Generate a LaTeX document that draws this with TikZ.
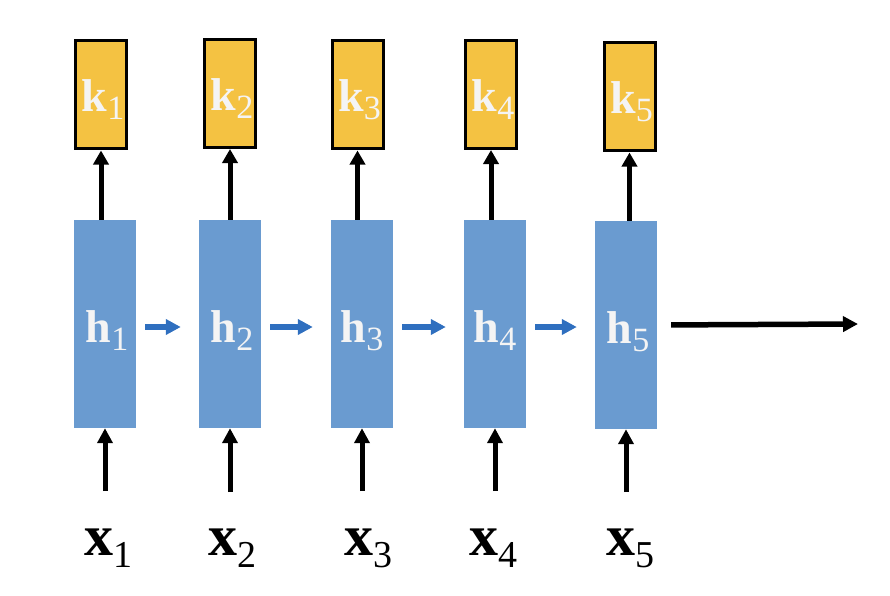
\documentclass[tikz,border=0pt]{standalone}
\usepackage{fontspec}
\usepackage{graphicx}
\setmainfont{Liberation Serif}
\usetikzlibrary{arrows.meta}
\definecolor{kyel}{HTML}{F4C242}
\definecolor{hblue}{HTML}{6A9BD0}
\definecolor{ablue}{HTML}{2F6FBF}
\definecolor{lbltxt}{HTML}{F4F4F4}
\newcommand\lab[2]{{\fontsize{46}{46}\selectfont\bfseries #1}\raisebox{-8pt}{\fontsize{34}{34}\selectfont #2}}
\newcommand\xlab[1]{{\fontsize{58}{58}\selectfont\bfseries x}\raisebox{-12pt}{\fontsize{38}{38}\selectfont #1}}
\tikzset{
  hbox/.style={rectangle, fill=hblue, draw=none, minimum width=62pt, minimum height=208pt, inner sep=0pt},
  kbox/.style={rectangle, fill=kyel, draw=black, line width=3pt, minimum width=51pt, minimum height=108pt, inner sep=0pt},
  lbl/.style={text=lbltxt, inner sep=0pt, anchor=base},
  xl/.style={text=black, inner sep=0pt, anchor=base},
  karrow/.style={draw=black, line width=5pt, -{Triangle[width=15pt,length=14pt]}},
  barrow/.style={draw=black, line width=5pt, -{Triangle[width=15pt,length=15pt]}},
  harrow/.style={draw=ablue, line width=5.5pt, -{Triangle[width=15pt,length=15pt]}},
  oarrow/.style={draw=black, line width=5.5pt, -{Triangle[width=15pt,length=15pt]}},
}
\begin{document}
\begin{tikzpicture}[x=1pt,y=-1pt]
\useasboundingbox (0,0) rectangle (890,596);
% hidden boxes
\node[hbox] (h1) at (105,324) {};
\node[hbox] (h2) at (230,324) {};
\node[hbox] (h3) at (362,324) {};
\node[hbox] (h4) at (495,324) {};
\node[hbox] (h5) at (626,325) {};
% output boxes
\node[kbox] (k1) at (101,95) {};
\node[kbox] (k2) at (230,93.5) {};
\node[kbox] (k3) at (357.5,95) {};
\node[kbox] (k4) at (491,94.5) {};
\node[kbox] (k5) at (629.5,97) {};
% labels in boxes
\foreach \i/\dx in {1/2,2/2,3/0,4/0,5/2}{
  \node[lbl] (hl\i) at ([xshift=\dx pt, yshift=-18pt]h\i.center) {\lab{h}{\i}};
}
\foreach \i in {1,...,5}{
  \node[lbl] (kl\i) at ([xshift=2pt, yshift=-17pt]k\i.center) {\lab{k}{\i}};
}
% input labels
\node[xl] (x1) at (108,555) {\xlab{1}};
\node[xl] (x2) at (232,555) {\xlab{2}};
\node[xl] (x3) at (368,555) {\xlab{3}};
\node[xl] (x4) at (493,555) {\xlab{4}};
\node[xl] (x5) at (630,555) {\xlab{5}};
% input arrow starts
\coordinate (b1) at (105,491);
\coordinate (b2) at (230,492);
\coordinate (b3) at (362,491);
\coordinate (b4) at (495,491);
\coordinate (b5) at (626,492);
\coordinate (out) at (858,324);
% arrows
\foreach \i in {1,...,5}{
  \draw[karrow] (k\i.south |- h\i.north) -- (k\i.south);
  \draw[barrow] (b\i) -- (h\i.south);
}
\draw[harrow, shorten <=9pt, shorten >=18pt] ([yshift=-3pt]h1.east) -- ([yshift=-3pt]h1.east -| h2.west);
\draw[harrow, shorten <=9pt, shorten >=18pt] ([yshift=-3pt]h2.east) -- ([yshift=-3pt]h2.east -| h3.west);
\draw[harrow, shorten <=9pt, shorten >=18pt] ([yshift=-3pt]h3.east) -- ([yshift=-3pt]h3.east -| h4.west);
\draw[harrow, shorten <=9pt, shorten >=18pt] ([yshift=-3pt]h4.east) -- ([yshift=-3pt]h4.east -| h5.west);
\draw[oarrow, shorten <=14pt] (h5.east) -- (out);
\end{tikzpicture}
\end{document}
